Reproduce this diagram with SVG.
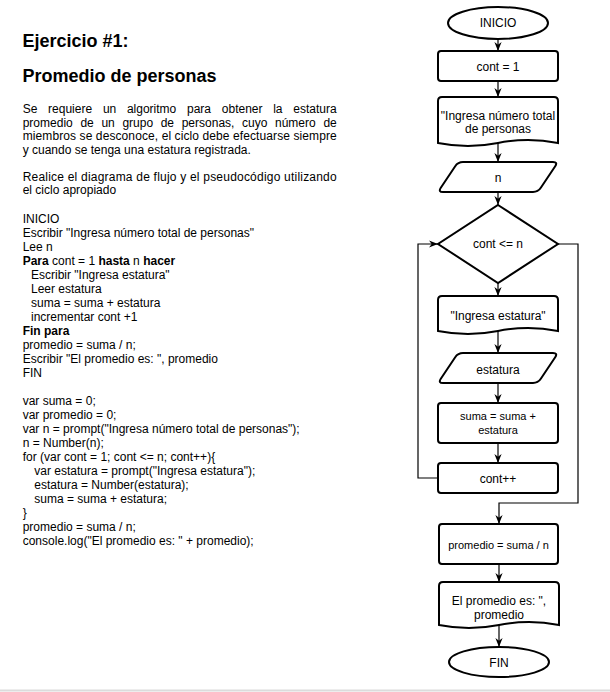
<svg xmlns="http://www.w3.org/2000/svg" width="610" height="692" viewBox="0 0 610 692">
<style>
text{font-family:"Liberation Sans",Arial,Helvetica,sans-serif;fill:#000}
.h{font-size:18px;font-weight:bold}
.t{font-size:12px}
.b{font-weight:bold}
.n{font-size:12px;text-anchor:middle}
.s{font-size:11px;text-anchor:middle}
.shape{fill:#fff;stroke:#000;stroke-width:2}
.edge{fill:none;stroke:#000;stroke-width:1.2}
</style>
<defs>
<marker id="arr" viewBox="0 0 10 8" markerWidth="9" markerHeight="7.5" refX="10" refY="4" orient="auto" markerUnits="userSpaceOnUse">
<path d="M0,0 L10,4 L0,8 L3,4 Z" fill="#000"/>
</marker>
</defs>
<rect x="0" y="0" width="610" height="692" fill="#fff"/>
<line x1="0" y1="690.5" x2="610" y2="690.5" stroke="#dcdcdc" stroke-width="2"/>

<g id="left-text">
<text class="h" x="22.5" y="47">Ejercicio #1:</text>
<text class="h" x="22.5" y="81.5">Promedio de personas</text>
<text class="t" y="113"><tspan x="22.7">Se</tspan><tspan x="48.1">requiere</tspan><tspan x="102.9">un</tspan><tspan x="126.9">algoritmo</tspan><tspan x="187">para</tspan><tspan x="221.8">obtener</tspan><tspan x="273.2">la</tspan><tspan x="293.3">estatura</tspan></text>
<text class="t" y="126.6"><tspan x="22.7">promedio</tspan><tspan x="80.4">de</tspan><tspan x="101.4">un</tspan><tspan x="122.4">grupo</tspan><tspan x="160.7">de</tspan><tspan x="181.7">personas,</tspan><tspan x="242.1">cuyo</tspan><tspan x="275">número</tspan><tspan x="323.4">de</tspan></text>
<text class="t" x="22.7" y="140.2" textLength="314" lengthAdjust="spacing">miembros se desconoce, el ciclo debe efectuarse siempre</text>
<text class="t" x="22.7" y="153.8">y cuando se tenga una estatura registrada.</text>
<text class="t" x="22.7" y="180.5" textLength="314" lengthAdjust="spacing">Realice el diagrama de flujo y el pseudocódigo utilizando</text>
<text class="t" x="22.7" y="194">el ciclo apropiado</text>

<text class="t" x="22.7" y="222.7">INICIO</text>
<text class="t" x="22.7" y="236.7">Escribir "Ingresa número total de personas"</text>
<text class="t" x="22.7" y="250.7">Lee n</text>
<text class="t" x="22.7" y="264.7"><tspan class="b">Para</tspan> cont = 1 <tspan class="b">hasta</tspan> n <tspan class="b">hacer</tspan></text>
<text class="t" x="31" y="278.7">Escribir "Ingresa estatura"</text>
<text class="t" x="31" y="292.7">Leer estatura</text>
<text class="t" x="31" y="306.7">suma = suma + estatura</text>
<text class="t" x="31" y="320.7">incrementar cont +1</text>
<text class="t b" x="22.7" y="334.7">Fin para</text>
<text class="t" x="22.7" y="348.7">promedio = suma / n;</text>
<text class="t" x="22.7" y="362.7">Escribir "El promedio es: ", promedio</text>
<text class="t" x="22.7" y="376.7">FIN</text>

<text class="t" x="22.7" y="405">var suma = 0;</text>
<text class="t" x="22.7" y="419">var promedio = 0;</text>
<text class="t" x="22.7" y="433">var n = prompt("Ingresa número total de personas");</text>
<text class="t" x="22.7" y="447">n = Number(n);</text>
<text class="t" x="22.7" y="461">for (var cont = 1; cont &lt;= n; cont++){</text>
<text class="t" x="34.3" y="475">var estatura = prompt("Ingresa estatura");</text>
<text class="t" x="34.3" y="489">estatura = Number(estatura);</text>
<text class="t" x="34.3" y="503">suma = suma + estatura;</text>
<text class="t" x="22.7" y="517">}</text>
<text class="t" x="22.7" y="531">promedio = suma / n;</text>
<text class="t" x="22.7" y="545">console.log("El promedio es: " + promedio);</text>
</g>

<g id="connectors">
<line class="edge" x1="498" y1="39.5" x2="498" y2="51" marker-end="url(#arr)"/>
<line class="edge" x1="498" y1="81" x2="498" y2="97" marker-end="url(#arr)"/>
<line class="edge" x1="498" y1="143" x2="498" y2="162" marker-end="url(#arr)"/>
<line class="edge" x1="498" y1="192" x2="498" y2="205" marker-end="url(#arr)"/>
<line class="edge" x1="498" y1="283" x2="498" y2="296" marker-end="url(#arr)"/>
<line class="edge" x1="498" y1="331" x2="498" y2="353" marker-end="url(#arr)"/>
<line class="edge" x1="498" y1="383" x2="498" y2="403" marker-end="url(#arr)"/>
<line class="edge" x1="498" y1="443" x2="498" y2="463" marker-end="url(#arr)"/>
<polyline class="edge" points="438,478 418,478 418,244 438,244" marker-end="url(#arr)"/>
<polyline class="edge" points="558,244 578,244 578,503 499,503 499,524" marker-end="url(#arr)"/>
<line class="edge" x1="499" y1="564" x2="499" y2="582" marker-end="url(#arr)"/>
<line class="edge" x1="499" y1="625" x2="499" y2="647" marker-end="url(#arr)"/>
</g>

<g id="inicio">
<ellipse class="shape" cx="498" cy="23" rx="50" ry="16"/>
<text class="n" x="498" y="27.3">INICIO</text>
</g>
<g id="cont1">
<rect class="shape" x="438" y="51" width="120" height="30" rx="3"/>
<text class="n" x="498" y="71">cont = 1</text>
</g>
<g id="msg-total">
<path class="shape" d="M438,101 Q438,97 442,97 L554,97 Q558,97 558,101 L558,143 Q528,137 498,143 Q468,149 438,143 Z"/>
<text class="n" x="498" y="120">"Ingresa número total</text>
<text class="n" x="498" y="133.3">de personas</text>
</g>
<g id="read-n">
<path class="shape" d="M463,162 L553,162 Q558,162 555.2,166.2 L540.8,187.8 Q538,192 533,192 L443,192 Q438,192 440.8,187.8 L455.2,166.2 Q458,162 463,162 Z"/>
<text class="n" x="498" y="181.5">n</text>
</g>
<g id="decision">
<path class="shape" d="M498,205 L558,244 L498,283 L438,244 Z"/>
<text class="n" x="498" y="248.3">cont &lt;= n</text>
</g>
<g id="msg-estatura">
<path class="shape" d="M438,300 Q438,296 442,296 L554,296 Q558,296 558,300 L558,331 Q528,325 498,331 Q468,337 438,331 Z"/>
<text class="n" x="498" y="320">"Ingresa estatura"</text>
</g>
<g id="read-estatura">
<path class="shape" d="M463,353 L553,353 Q558,353 555.2,357.2 L540.8,378.8 Q538,383 533,383 L443,383 Q438,383 440.8,378.8 L455.2,357.2 Q458,353 463,353 Z"/>
<text class="n" x="498" y="374">estatura</text>
</g>
<g id="suma">
<rect class="shape" x="438" y="403" width="120" height="40" rx="3"/>
<text class="s" x="498" y="420">suma = suma +</text>
<text class="s" x="498" y="434.3">estatura</text>
</g>
<g id="inc">
<rect class="shape" x="438" y="463" width="120" height="30" rx="3"/>
<text class="n" x="498" y="482.7">cont++</text>
</g>
<g id="promedio">
<rect class="shape" x="439" y="524" width="119" height="40" rx="3"/>
<text class="s" x="498.5" y="548.7">promedio = suma / n</text>
</g>
<g id="msg-promedio">
<path class="shape" d="M439,586 Q439,582 443,582 L555,582 Q559,582 559,586 L559,625 Q529,619 499,625 Q469,631 439,625 Z"/>
<text class="n" x="499" y="605">El promedio es: ",</text>
<text class="n" x="499" y="619">promedio</text>
</g>
<g id="fin">
<ellipse class="shape" cx="499" cy="662" rx="50" ry="15"/>
<text class="n" x="499" y="666.5">FIN</text>
</g>
</svg>
